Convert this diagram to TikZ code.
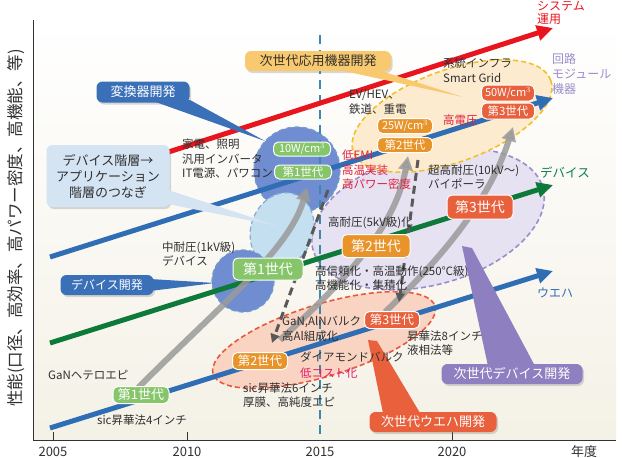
\documentclass[tikz,border=0pt]{standalone}
\usepackage{fontspec}
\setmainfont{Noto Sans CJK JP}
\usetikzlibrary{arrows.meta,shadows}
\definecolor{txt}{HTML}{303030}
\definecolor{lineblue}{HTML}{2F6DB5}
\definecolor{linegreen}{HTML}{0E7A3A}
\definecolor{linered}{HTML}{E8141E}
\definecolor{pillgreen}{HTML}{86C56A}
\definecolor{pillorange}{HTML}{E8942A}
\definecolor{pillred}{HTML}{E8603C}
\definecolor{circblue}{HTML}{6F8DD0}
\definecolor{lightbl}{HTML}{C4E0F0}
\definecolor{lav}{HTML}{E6E2F2}
\definecolor{lavborder}{HTML}{9C8CCB}
\definecolor{peach}{HTML}{FDEBD0}
\definecolor{peachborder}{HTML}{F2C02A}
\definecolor{salmon}{HTML}{FAD4C2}
\definecolor{salmonborder}{HTML}{E8583C}
\definecolor{cblue}{HTML}{3A70B8}
\definecolor{cyellow}{HTML}{F8C96E}
\definecolor{clight}{HTML}{D4E4F3}
\definecolor{cpurple}{HTML}{8E80C0}
\definecolor{redtext}{HTML}{E0203C}
\definecolor{tealline}{HTML}{3A8AB0}
\definecolor{grayarrow}{HTML}{9A9A9A}
\definecolor{bgbottom}{HTML}{F4F1E6}
\tikzset{
  pill/.style={rounded corners=5pt, draw=white, line width=1pt, text=white, inner sep=0pt, font=\fontsize{12}{12}\selectfont},
  lbl/.style={text=txt, align=left, inner sep=0pt, font=\fontsize{11.5}{14.5}\selectfont},
  callout/.style={rounded corners=6pt, inner sep=0pt, font=\fontsize{13}{13}\selectfont,
     drop shadow={opacity=0.3, shadow xshift=1.5pt, shadow yshift=-2pt}},
  trendline/.style={line width=5pt, -{Triangle[length=16pt,width=15pt]}},
  grayarr/.style={line width=6pt, draw=grayarrow, opacity=0.85, -{Triangle[length=14pt,width=14pt]}},
  dasharr/.style={line width=3pt, draw=black!65, dash pattern=on 8pt off 5pt, -{Triangle[length=9pt,width=9pt]}},
  blob/.style={line width=1.6pt, dash pattern=on 5pt off 3pt},
}
\begin{document}
\begin{tikzpicture}[x=1pt,y=-1pt]
\useasboundingbox (0,0) rectangle (622,458);
\clip (0,0) rectangle (622,458);
% background
\shade[top color=white, bottom color=bgbottom] (34,20) rectangle (616,440);

% axes
\draw[line width=1pt, black!80] (33,20) -- (33,440) -- (616,440);
\foreach \x in {53,187,452} \draw[line width=1pt, black!80] (\x,440) -- (\x,432);
\node[text=txt, font=\fontsize{13}{13}\selectfont] (y2005) at (53,452) {2005};
\node[text=txt, font=\fontsize{13}{13}\selectfont] (y2010) at (187,452) {2010};
\node[text=txt, font=\fontsize{13}{13}\selectfont] (y2015) at (320,452) {2015};
\node[text=txt, font=\fontsize{13}{13}\selectfont] (y2020) at (452,452) {2020};
\node[text=txt, font=\fontsize{13}{13}\selectfont] (nendo) at (584,452) {年度};
\node[text=txt, rotate=90, font=\fontsize{16.5}{16.5}\selectfont] (yaxis) at (16,228) {性能(口径、高効率、高パワー密度、高機能、等)};

% blobs
\draw[blob, fill=lav, draw=lavborder, rotate around={15:(428,219)}] (428,219) ellipse [x radius=119, y radius=66];
\draw[blob, fill=peach, draw=peachborder, rotate around={20:(452,116)}] (452,116) ellipse [x radius=105, y radius=46];
\draw[blob, fill=salmon, draw=salmonborder, rotate around={17:(324,340)}] (324,340) ellipse [x radius=116, y radius=36];
\draw[blob, fill=circblue, draw=cblue!70, line width=1.2pt] (297,170) circle [radius=43];
\draw[blob, fill=lightbl, draw=cblue!60, line width=1.2pt, rotate around={-20:(282,230)}] (282,230) ellipse [x radius=31, y radius=38];
\draw[blob, fill=circblue, draw=cblue!70, line width=1.2pt] (243,281) circle [radius=31];

% 2015 dashed line
\draw[tealline, line width=2pt, dash pattern=on 9pt off 6pt] (320,35) -- (320,440);

% trend lines
\coordinate (bs) at (50,257); \coordinate (be) at (553,98);
\coordinate (gs) at (50,343); \coordinate (ge) at (553,185);
\coordinate (ws) at (50,428); \coordinate (we) at (553,271);
\coordinate (rs) at (60,187); \coordinate (re) at (553,28);
\draw[trendline, lineblue] (bs) -- (be);
\draw[trendline, linegreen] (gs) -- (ge);
\draw[trendline, lineblue] (ws) -- (we);
\draw[trendline, linered] (rs) -- (re);

% gray arrows
\coordinate (g1s) at (138,388); \coordinate (g1e) at (307,187);
\draw[grayarr] (g1s) .. controls (215,310) and (290,250) .. (g1e);
\coordinate (g4s) at (280,340); \coordinate (g4e) at (408,156);
\draw[grayarr] (g4s) .. controls (340,285) and (395,230) .. (g4e);
\coordinate (g3s) at (385,312); \coordinate (g3e) at (513,127);
\draw[grayarr] (g3s) .. controls (440,260) and (490,200) .. (g3e);
\coordinate (d1s) at (328,190); \coordinate (d1e) at (272,343);
\draw[dasharr] (d1s) -- (d1e);
\coordinate (d2s) at (418,160); \coordinate (d2e) at (399,302);
\draw[dasharr] (d2s) -- (d2e);

% callouts
\node[callout, fill=cblue, text=white, minimum width=93pt, minimum height=21pt] (henkan) at (143,92) {変換器開発};
\fill[cblue] (150,100) -- (190,100) -- (265,141) -- cycle;
\node[callout, fill=cyellow, text=txt, minimum width=146pt, minimum height=20pt] (jisedai) at (318,61) {次世代応用機器開発};
\fill[cyellow] (335,69) -- (375,69) -- (463,97) -- cycle;
\node[callout, fill=clight, text=txt, align=center, font=\fontsize{13}{16}\selectfont, minimum width=123pt, minimum height=62pt] (tsunagi) at (108,176) {デバイス階層→\\アプリケーション\\階層のつなぎ};
\fill[clight] (162,188) -- (168,204) -- (278,226) -- cycle;
\node[callout, fill=cblue, text=white, font=\fontsize{12}{12}\selectfont, minimum width=93pt, minimum height=20pt] (devkai) at (107,285) {デバイス開発};
\fill[cblue] (150,279) -- (150,291) -- (215,283) -- cycle;
\node[callout, fill=cpurple, text=white, minimum width=141pt, minimum height=20pt] (jdev) at (512,374) {次世代デバイス開発};
\fill[cpurple] (462,246) -- (472,248) -- (535,366) -- (488,366) -- cycle;
\node[callout, fill=pillred, text=white, minimum width=127pt, minimum height=20pt] (jwafer) at (433,422) {次世代ウエハ開発};
\fill[pillred] (368,340) -- (377,341) -- (420,413) -- (383,413) -- cycle;

% pills
\node[pill, fill=pillgreen, minimum width=57pt, minimum height=14pt, font=\fontsize{11}{11}\selectfont] (p10w) at (302,149) {10W/cm$^3$};
\node[pill, fill=pillgreen, minimum width=57pt, minimum height=14pt, font=\fontsize{11.5}{11.5}\selectfont] (p1a) at (303,172) {第1世代};
\node[pill, fill=pillgreen, minimum width=70pt, minimum height=22pt, font=\fontsize{14}{14}\selectfont] (p1b) at (268,269) {第1世代};
\node[pill, fill=pillgreen, minimum width=56pt, minimum height=17pt, font=\fontsize{13}{13}\selectfont] (p1c) at (141,395) {第1世代};
\node[pill, fill=pillorange, minimum width=68pt, minimum height=23pt, font=\fontsize{14}{14}\selectfont] (p2a) at (376,246) {第2世代};
\node[pill, fill=pillred, minimum width=66pt, minimum height=24pt, font=\fontsize{14}{14}\selectfont] (p3a) at (480,207) {第3世代};
\node[pill, fill=pillorange, minimum width=55pt, minimum height=15pt, font=\fontsize{11}{11}\selectfont] (p25w) at (405,126) {25W/cm$^3$};
\node[pill, fill=pillorange, minimum width=55pt, minimum height=15pt, font=\fontsize{11.5}{11.5}\selectfont] (p2b) at (405,145) {第2世代};
\node[pill, fill=pillred, minimum width=53pt, minimum height=16pt, font=\fontsize{11}{11}\selectfont] (p50w) at (508,93) {50W/cm$^3$};
\node[pill, fill=pillred, minimum width=53pt, minimum height=16pt, font=\fontsize{11.5}{11.5}\selectfont] (p3b) at (508,111) {第3世代};
\node[pill, fill=pillred, minimum width=55pt, minimum height=17pt, font=\fontsize{12.5}{12.5}\selectfont] (p3c) at (392,320) {第3世代};
\node[pill, fill=pillorange, minimum width=55pt, minimum height=17pt, font=\fontsize{12.5}{12.5}\selectfont] (p2c) at (260,361) {第2世代};

% labels
\node[text=linered, align=left, inner sep=0pt, font=\fontsize{12}{12.5}\selectfont, anchor=west] (sys) at (537,13) {システム\\運用};
\node[text=lavborder, align=left, inner sep=0pt, font=\fontsize{12}{15}\selectfont, anchor=west] (kairo) at (552,74) {回路\\モジュール\\機器};
\node[text=linegreen!70!teal, inner sep=0pt, font=\fontsize{12.5}{12.5}\selectfont, anchor=west] (ldev) at (540,173) {デバイス};
\node[text=lineblue, inner sep=0pt, font=\fontsize{12}{12}\selectfont, anchor=west] (lwafer) at (537,293) {ウエハ};

\node[lbl, anchor=west] (kaden) at (182,159) {家電、照明\\汎用インバータ\\IT電源、パワコン};
\node[lbl, anchor=west, text=redtext] (teiemi) at (342,170) {低EMI\\高温実装\\高パワー密度};
\node[lbl, anchor=west] (ev) at (349,102) {EV/HEV、\\鉄道、重電};
\node[lbl, anchor=west, text=redtext] (kouden) at (443,120) {高電圧};
\node[lbl, anchor=west] (keito) at (443,70) {系統インフラ\\Smart Grid};
\node[lbl, anchor=west] (chou) at (428,177) {超高耐圧(10kV〜)\\バイポーラ};
\node[lbl, anchor=west] (kotai) at (328,223) {高耐圧(5kV級)化};
\node[lbl, anchor=west] (chutai) at (162,254) {中耐圧(1kV級)\\デバイス};
\node[lbl, anchor=west] (shinrai) at (315,278) {高信頼化・高温動作(250℃級)\\高機能化・集積化};
\node[lbl, anchor=west] (gan) at (282,329) {GaN,AlNバルク\\高Al組成化};
\node[lbl, anchor=west] (dia) at (300,357) {ダイアモンドバルク};
\node[lbl, anchor=west, text=redtext!80!magenta] (lowcost) at (300,373) {低コスト化};
\node[lbl, anchor=west] (shoka8) at (407,343) {昇華法8インチ\\液相法等};
\node[lbl, anchor=west] (sic6) at (243,395) {sic昇華法6インチ\\厚膜、高純度エピ};
\node[lbl, anchor=west] (ganhetero) at (48,375) {GaNヘテロエピ};
\node[lbl, anchor=west] (sic4) at (97,420) {sic昇華法4インチ};
\end{tikzpicture}
\end{document}
